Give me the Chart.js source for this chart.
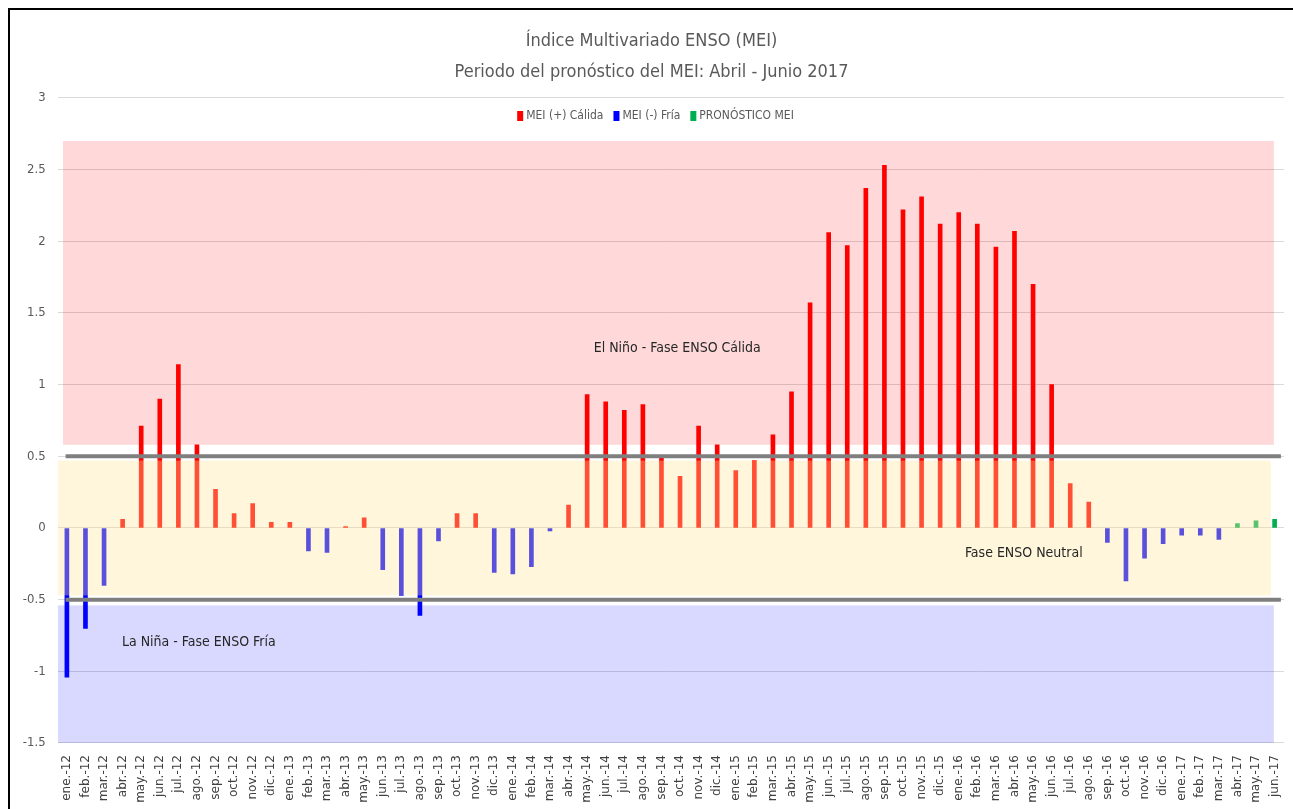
<!DOCTYPE html>
<html>
<head>
<meta charset="utf-8">
<script src="https://cdn.jsdelivr.net/npm/chart.js@4.4.1/dist/chart.umd.min.js"></script>
<style>
  body { margin: 0; background: #fff; overflow: hidden; }
  #frame { position: absolute; left: 8px; top: 8px; border-left: 2px solid #000; border-top: 2px solid #000; }
  canvas { display: block; }
</style>
</head>
<body>
<div id="frame"><canvas id="mei" width="1283" height="810"></canvas></div>
<script>
// month names and years for the x axis
var months = ["ene.", "feb.", "mar.", "abr.", "may.", "jun.", "jul.", "ago.", "sep.", "oct.", "nov.", "dic."];
var years = ["12", "13", "14", "15", "16", "17"];

// observed MEI, ene-12 .. mar-17
var mei = [
  -1.04, -0.70, -0.40, 0.06, 0.71, 0.90, 1.14, 0.58, 0.27, 0.10, 0.17, 0.04,
  0.04, -0.16, -0.17, 0.01, 0.07, -0.29, -0.47, -0.61, -0.09, 0.10, 0.10, -0.31,
  -0.32, -0.27, -0.02, 0.16, 0.93, 0.88, 0.82, 0.86, 0.49, 0.36, 0.71, 0.58,
  0.40, 0.47, 0.65, 0.95, 1.57, 2.06, 1.97, 2.37, 2.53, 2.22, 2.31, 2.12,
  2.20, 2.12, 1.96, 2.07, 1.70, 1.00, 0.31, 0.18, -0.10, -0.37, -0.21, -0.11,
  -0.05, -0.05, -0.08
];

// forecast abr-17 .. jun-17
var pronostico = [0.03, 0.05, 0.06];

var yTicks = [-1.5, -1, -0.5, 0, 0.5, 1, 1.5, 2, 2.5, 3];

// build the labels (ene.-12 ... jun.-17)
var labels = [];
for (var y = 0; y < years.length; y++) {
  for (var m = 0; m < 12; m++) {
    if (y == years.length - 1 && m > 5) break;
    labels.push(months[m] + "-" + years[y]);
  }
}

// split the observed values by sign, forecast goes at the end
var calida = [], fria = [], prono = [];
for (var i = 0; i < labels.length; i++) {
  if (i < mei.length) {
    calida.push(mei[i] >= 0 ? mei[i] : null);
    fria.push(mei[i] < 0 ? mei[i] : null);
    prono.push(null);
  } else {
    calida.push(null);
    fria.push(null);
    prono.push(pronostico[i - mei.length]);
  }
}

var narrow = "'Liberation Sans Narrow', 'DejaVu Sans Condensed', 'Roboto Condensed', 'Open Sans', sans-serif";

// phase bands, drawn over the bars (transparent)
var bands = [
  { from: 0.58, to: 2.7, color: "rgba(255, 0, 0, 0.15)", l: 5.4, r: 10 },
  { from: -0.47, to: 0.47, color: "rgba(255, 228, 155, 0.35)", l: 0.4, r: 13 },
  { from: -1.5, to: -0.54, color: "rgba(0, 0, 255, 0.15)", l: 0.4, r: 10 }
];
var thresholds = [0.5, -0.5];
var notes = [
  { text: "El Niño - Fase ENSO Cálida", x: 32.85, y: 1.25 },
  { text: "Fase ENSO Neutral", x: 51.5, y: -0.18 },
  { text: "La Niña - Fase ENSO Fría", x: 7.1, y: -0.80 }
];

var overlay = {
  id: "overlay",
  afterDatasetsDraw: function (chart) {
    var ctx = chart.ctx, a = chart.chartArea;
    var xs = chart.scales.x, ys = chart.scales.y;
    ctx.save();
    // bands
    bands.forEach(function (b) {
      var top = ys.getPixelForValue(b.to), bot = ys.getPixelForValue(b.from);
      ctx.fillStyle = b.color;
      ctx.fillRect(a.left + b.l, top, (a.right - b.r) - (a.left + b.l), bot - top);
    });
    // +/- 0.5 lines
    ctx.strokeStyle = "#7f7f7f";
    ctx.lineWidth = 4;
    thresholds.forEach(function (t) {
      var py = ys.getPixelForValue(t);
      ctx.beginPath();
      ctx.moveTo(a.left + 8, py);
      ctx.lineTo(a.right - 3, py);
      ctx.stroke();
    });
    // phase labels
    ctx.fillStyle = "#262626";
    ctx.font = "14px " + narrow;
    ctx.textAlign = "center";
    ctx.textBaseline = "middle";
    notes.forEach(function (n) {
      ctx.fillText(n.text, xs.getPixelForValue(n.x), ys.getPixelForValue(n.y));
    });
    // legend inside the plot
    ctx.font = "12px " + narrow;
    ctx.textAlign = "left";
    var items = chart.data.datasets.map(function (d) { return { t: d.label, c: d.backgroundColor }; });
    var gap = 10, sw = 6, total = 0;
    items.forEach(function (it) { it.w = sw + 3 + ctx.measureText(it.t).width; total += it.w; });
    total += gap * (items.length - 1);
    var lx = chart.width / 2 - total / 2 + 4, ly = 106;
    items.forEach(function (it) {
      ctx.fillStyle = it.c;
      ctx.fillRect(lx, ly - 5, sw, 10);
      ctx.fillStyle = "#595959";
      ctx.fillText(it.t, lx + sw + 3, ly);
      lx += it.w + gap;
    });
    ctx.restore();
  }
};

new Chart(document.getElementById("mei"), {
  type: "bar",
  data: {
    labels: labels,
    datasets: [
      { label: "MEI (+) Cálida", data: calida, backgroundColor: "#ff0000", barThickness: 4, grouped: false },
      { label: "MEI (-) Fría", data: fria, backgroundColor: "#0000ff", barThickness: 4, grouped: false },
      { label: "PRONÓSTICO MEI", data: prono, backgroundColor: "#00b050", barThickness: 4, grouped: false }
    ]
  },
  options: {
    responsive: false,
    animation: false,
    layout: { padding: 0 },
    plugins: {
      legend: { display: false },
      tooltip: { enabled: false },
      title: {
        display: true,
        text: ["Índice Multivariado ENSO (MEI)", "Periodo del pronóstico del MEI: Abril - Junio 2017"],
        color: "#595959",
        font: { family: narrow, size: 18, weight: "normal", lineHeight: 1.72 },
        padding: { top: 16, bottom: 10 }
      }
    },
    scales: {
      x: {
        grid: { display: false },
        border: { display: false },
        ticks: {
          autoSkip: false, maxRotation: 90, minRotation: 90,
          color: "#404040", font: { family: "'DejaVu Sans', sans-serif", size: 12 }, padding: 4
        },
        afterFit: function (s) { s.height = 77; }
      },
      y: {
        min: -1.5, max: 3,
        afterBuildTicks: function (s) { s.ticks = yTicks.map(function (v) { return { value: v }; }); },
        grid: { color: "#d9d9d9", drawTicks: false },
        border: { display: false },
        ticks: {
          color: "#595959", font: { family: narrow, size: 13 }, padding: 12,
          callback: function (v) { return String(v); }
        },
        afterFit: function (s) { s.width = 47.6; }
      }
    }
  },
  plugins: [overlay]
});
</script>
</body>
</html>
